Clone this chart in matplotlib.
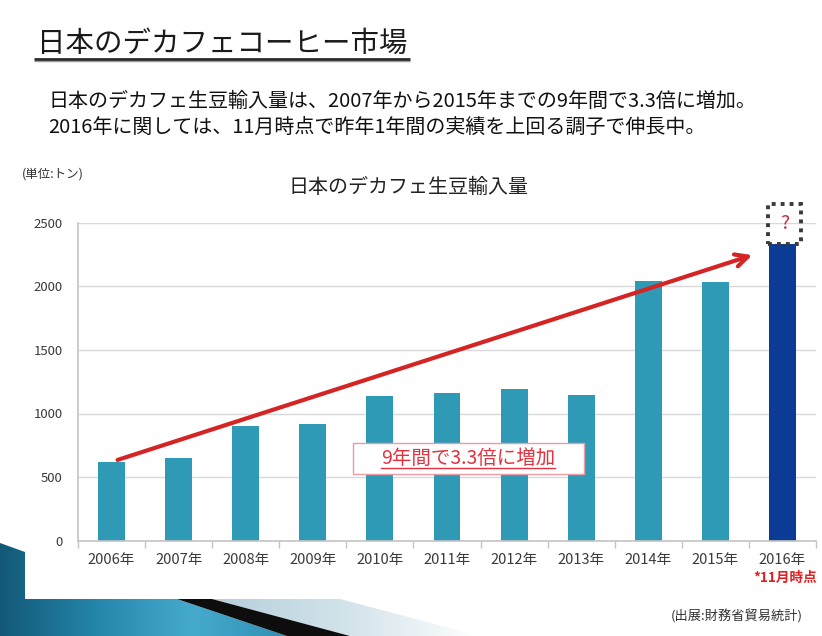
import matplotlib
matplotlib.use('Agg')
import matplotlib.pyplot as plt
import numpy as np
from matplotlib.patches import Polygon, Rectangle
from matplotlib.colors import LinearSegmentedColormap

plt.rcParams['font.family'] = ['Noto Sans CJK JP', 'DejaVu Sans']

# ---------------- data ----------------
years = ['2006年', '2007年', '2008年', '2009年', '2010年', '2011年',
         '2012年', '2013年', '2014年', '2015年', '2016年']
imports = [620, 650, 900, 920, 1140, 1160, 1190, 1145, 2040, 2030, 2330]
yticks = [0, 500, 1000, 1500, 2000, 2500]

page_title = '日本のデカフェコーヒー市場'
summary = ['日本のデカフェ生豆輸入量は、2007年から2015年までの9年間で3.3倍に増加。',
           '2016年に関しては、11月時点で昨年1年間の実績を上回る調子で伸長中。']
chart_title = '日本のデカフェ生豆輸入量'
unit_label = '(単位:トン)'
callout = '9年間で3.3倍に増加'
note_2016 = '*11月時点'
source = '(出展:財務省貿易統計)'

# ---------------- figure ----------------
W, H = 822, 636
fig = plt.figure(figsize=(W / 100, H / 100), dpi=100)
fig.patch.set_facecolor('white')

# background decoration axes (pixel coordinates, y downwards)
bg = fig.add_axes([0, 0, 1, 1], zorder=0)
bg.axis('off')

def grad_poly(ax, pts, colors, x0, x1, y0, y1, z):
    cmap = LinearSegmentedColormap.from_list('g', colors)
    g = np.linspace(0, 1, 256)[None, :]
    im = ax.imshow(g, extent=[x0, x1, y1, y0], cmap=cmap, aspect='auto',
                   zorder=z, interpolation='bilinear')
    p = Polygon(pts, closed=True, fc='none', ec='none')
    ax.add_patch(p)
    im.set_clip_path(p)

grad_poly(bg, [(0, 543), (25, 552), (25, 599), (177, 599), (287, 636), (0, 636)],
          ['#135877', '#2486ab', '#46aacd', '#2f8fb3'], 0, 290, 543, 636, 1)
bg.add_patch(Polygon([(177, 599), (212, 599), (350, 636), (287, 636)],
                     closed=True, fc='#0d0d0d', ec='none', zorder=2))
grad_poly(bg, [(212, 599), (340, 599), (480, 636), (350, 636)],
          ['#b4cfdc', '#d3e3ea', '#ffffff'], 212, 480, 599, 636, 1)
bg.set_xlim(0, W)
bg.set_ylim(H, 0)

# main chart axes
ax = fig.add_axes([78 / W, 1 - 540.7 / H, (816 - 78) / W, (540.7 - 222.7) / H], zorder=1)
ax.set_facecolor('none')
x = np.arange(len(years))
colors = ['#2e9ab6'] * (len(years) - 1) + ['#0b3b94']
ax.bar(x, imports, width=0.4, color=colors, zorder=2)
ax.set_xlim(-0.5, len(years) - 0.5)
ax.set_ylim(0, 2500)
ax.set_yticks(yticks)
ax.grid(axis='y', color='#d9d9d9', lw=1)
ax.set_axisbelow(True)
for s in ['top', 'right']:
    ax.spines[s].set_visible(False)
for s in ['left', 'bottom']:
    ax.spines[s].set_color('#c4c4c4')
    ax.spines[s].set_linewidth(1.2)
ax.set_xticks(x)
ax.set_xticklabels(years)
ax.set_xticks(np.arange(-0.5, len(years)), minor=True)
ax.tick_params(axis='x', which='major', length=0, pad=9, labelsize=10.5, labelcolor='#3a3a3a')
ax.tick_params(axis='x', which='minor', length=5, width=1, color='#c4c4c4', direction='out')
ax.tick_params(axis='y', length=0, pad=11, labelsize=9.5, labelcolor='#3a3a3a')

# growth arrow
ax.annotate('', xy=(x[-1] - 0.45, imports[-1] - 85), xytext=(x[0] + 0.09, imports[0] + 15),
            arrowprops=dict(arrowstyle='->,head_length=0.9,head_width=0.45',
                            color='#d42424', lw=3, shrinkA=0, shrinkB=0),
            zorder=4)

# dotted "?" box above 2016
ax.add_patch(Rectangle((x[-1] - 0.22, imports[-1]), 0.5, 320, fill=False,
                       ls=(0, (1, 1.3)), lw=2.8, ec='#3a3a3a', clip_on=False, zorder=3))
ax.text(x[-1] + 0.03, imports[-1] + 165, '?', color='#c8323c', fontsize=14,
        ha='center', va='center', clip_on=False, zorder=4)

# overlay axes for texts
ov = fig.add_axes([0, 0, 1, 1], zorder=3)
ov.set_facecolor('none')
ov.axis('off')
ov.set_xlim(0, W)
ov.set_ylim(H, 0)
ov.set_autoscale_on(False)

t_title = ov.text(37, 44, page_title, fontsize=20.5, color='#1a1a1a', ha='left', va='center')
ov.text(48, 101, summary[0], fontsize=14.4, color='#111111', ha='left', va='center')
ov.text(48, 127, summary[1], fontsize=14.4, color='#111111', ha='left', va='center')
ov.text(22, 174, unit_label, fontsize=9, color='#333333', ha='left', va='center')
ov.text(408, 187, chart_title, fontsize=14.4, color='#222222', ha='center', va='center')
ov.text(785, 578, note_2016, fontsize=9.8, color='#e02020', ha='center', va='center',
        fontweight='bold')
ov.text(803, 616, source, fontsize=9.5, color='#333333', ha='right', va='center')

ov.add_patch(Rectangle((353, 443), 231, 31, fc='white', ec='#ec9aa4', lw=1, zorder=5))
t_call = ov.text(468, 458, callout, fontsize=14, color='#e3323f', ha='center', va='center', zorder=6)

fig.canvas.draw()
bb = t_title.get_window_extent()
ov.plot([bb.x0 - 3, bb.x1 + 2], [59, 59], color='#2b2b2b', lw=2, solid_capstyle='butt', zorder=5)
ov.plot([bb.x0 - 3, bb.x1 + 2], [61, 61], color='#9a9a9a', lw=1, solid_capstyle='butt', zorder=4)
bb2 = t_call.get_window_extent()
yy = H - bb2.y0 - 1
ov.plot([bb2.x0, bb2.x1], [yy, yy], color='#e3323f', lw=1, zorder=6)

fig.savefig('out.png', dpi=100, facecolor='white')
